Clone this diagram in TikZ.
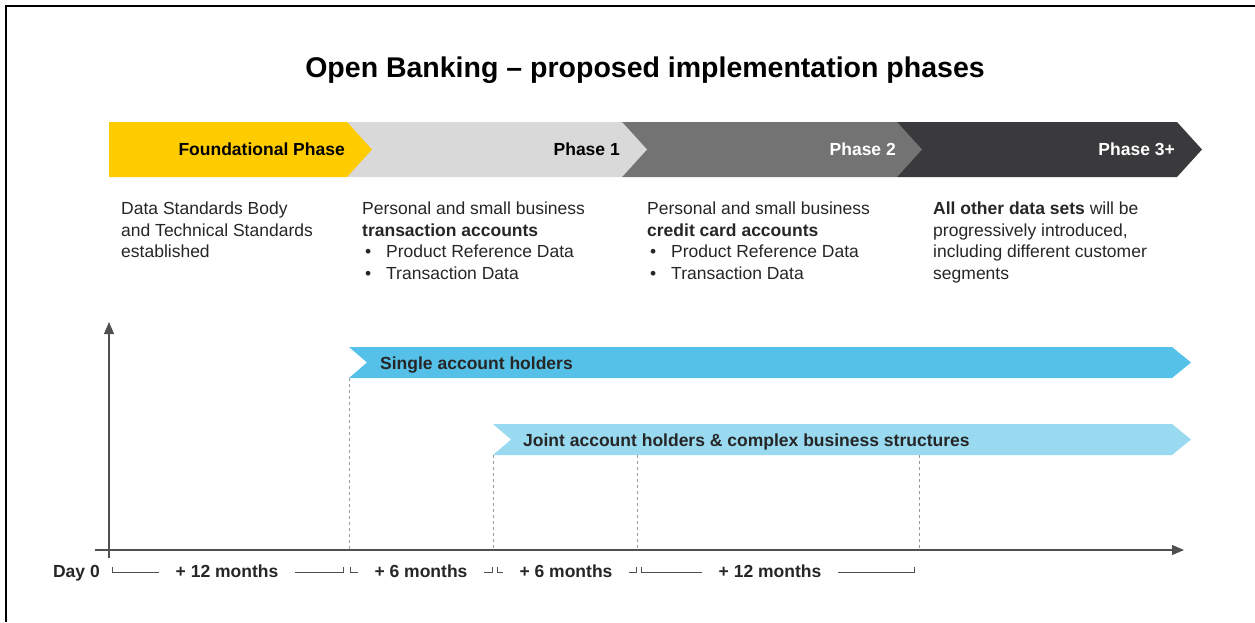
\documentclass[tikz,border=0pt]{standalone}
\usepackage{fontspec}
\setmainfont{Liberation Sans}
\usetikzlibrary{arrows.meta}

\definecolor{fpyellow}{HTML}{FFCC00}
\definecolor{ponegrey}{HTML}{D9D9D9}
\definecolor{ptwogrey}{HTML}{737373}
\definecolor{pthreegrey}{HTML}{3A3A3C}
\definecolor{singleblue}{HTML}{55C1E8}
\definecolor{jointblue}{HTML}{99DAF1}
\definecolor{txtgrey}{HTML}{262626}
\definecolor{axisgrey}{HTML}{505050}

\tikzset{
    phaselbl/.style={font=\bfseries\fontsize{17.5}{21}\selectfont, anchor=base east, inner sep=0pt},
    bodytxt/.style={font=\fontsize{17.5}{21.5}\selectfont, text=txtgrey, align=left, anchor=north west, inner sep=0pt},
    barlbl/.style={font=\bfseries\fontsize{17.5}{21}\selectfont, text=txtgrey, anchor=base west, inner sep=0pt},
    spanline/.style={draw=axisgrey, line width=0.8pt},
    spanlbl/.style={font=\bfseries\fontsize{17.5}{21}\selectfont, text=txtgrey, fill=white, anchor=base, inner xsep=17pt, inner ysep=1pt},
    axis/.style={draw=axisgrey, line width=1.1pt, -{Triangle[length=12pt, width=10pt]}},
    guide/.style={draw=black!40, line width=0.8pt, dash pattern=on 3pt off 3pt}
}

\newcommand\phasechev[3]{
    \fill[#1] (#2,122) -- (#3,122) -- (#3+25,149.5) -- (#3,177) -- (#2,177) -- cycle;
}
\newcommand\holderbar[3]{
    \fill[#1] (#2,#3) -- (1172,#3) -- (1191,#3+15.5) -- (1172,#3+31) -- (#2,#3+31) -- (#2+18,#3+15.5) -- cycle;
}
\newcommand\monthspan[5]{
    \draw[spanline] (#2,567) |- (#3,572.5) -- (#3,567);
    \node[spanlbl] (#1) at (#4,577) {#5};
}
\newcommand\bul{\hspace*{3pt}\makebox[21pt][l]{\textbullet}}

\begin{document}
\begin{tikzpicture}[x=1pt, y=-1pt]
    \useasboundingbox (0,0) rectangle (1255,622);
    \draw[line width=2.5pt] (6,622) -- (6,6) -- (1255,6);

    \node[font=\bfseries\fontsize{28.5}{34}\selectfont, anchor=base] (title) at (645,77)
        {Open Banking -- proposed implementation phases};

    \phasechev{pthreegrey}{897}{1177}
    \phasechev{ptwogrey}{622}{897}
    \phasechev{ponegrey}{347}{622}
    \phasechev{fpyellow}{109}{347}

    \node[phaselbl] (fphase) at (345,155.5) {Foundational Phase};
    \node[phaselbl] (phase1) at (620,155.5) {Phase 1};
    \node[phaselbl, text=white] (phase2) at (896,155.5) {Phase 2};
    \node[phaselbl, text=white] (phase3) at (1175,155.5) {Phase 3+};

    \node[bodytxt] (fptxt) at (121,202)
        {Data Standards Body\\and Technical Standards\\established};
    \node[bodytxt] (p1txt) at (362,202)
        {Personal and small business\\\textbf{transaction accounts}\\\bul Product Reference Data\\\bul Transaction Data};
    \node[bodytxt] (p2txt) at (647,202)
        {Personal and small business\\\textbf{credit card accounts}\\\bul Product Reference Data\\\bul Transaction Data};
    \node[bodytxt] (p3txt) at (933,202)
        {\textbf{All other data sets} will be\\progressively introduced,\\including different customer\\segments};

    \holderbar{singleblue}{349}{347}
    \holderbar{jointblue}{493}{424}
    \node[barlbl] (single) at (380,369) {Single account holders};
    \node[barlbl] (joint) at (523,446) {Joint account holders \& complex business structures};

    \foreach \x/\y [count=\i] in {349/378, 493/455, 637/455, 919/455} {
        \coordinate (gtop\i) at (\x,\y);
        \coordinate (gbot\i) at (\x,550);
        \draw[guide] (gtop\i) -- (gbot\i);
    }

    \coordinate (xstart) at (95,550);
    \coordinate (xend) at (1184,550);
    \coordinate (ystart) at (109,558);
    \coordinate (yend) at (109,322);
    \draw[axis] (xstart) -- (xend);
    \draw[axis] (ystart) -- (yend);

    \node[barlbl, anchor=base east] (day0) at (100,577) {Day 0};
    \monthspan{span1}{112}{343}{227}{+ 12 months}
    \monthspan{span2}{350}{492}{421}{+ 6 months}
    \monthspan{span3}{497}{636}{566}{+ 6 months}
    \monthspan{span4}{641}{914}{770}{+ 12 months}
\end{tikzpicture}
\end{document}
